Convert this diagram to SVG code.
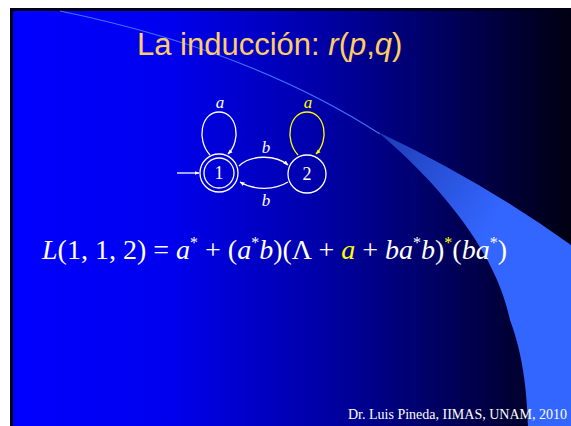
<svg xmlns="http://www.w3.org/2000/svg" width="571" height="426" viewBox="0 0 571 426">
<defs>
<linearGradient id="bg" x1="13" y1="0" x2="571" y2="0" gradientUnits="userSpaceOnUse">
<stop offset="0" stop-color="#0000ff"/>
<stop offset="0.28" stop-color="#0000ee"/>
<stop offset="0.55" stop-color="#0000a8"/>
<stop offset="0.8" stop-color="#000055"/>
<stop offset="1" stop-color="#000012"/>
</linearGradient>
<linearGradient id="sw" x1="380" y1="133" x2="500" y2="210" gradientUnits="userSpaceOnUse">
<stop offset="0" stop-color="#1e3cb4"/>
<stop offset="1" stop-color="#3366ff"/>
</linearGradient>
<marker id="ah" viewBox="0 0 10 10" refX="9" refY="5" markerWidth="5" markerHeight="5" orient="auto" markerUnits="userSpaceOnUse">
<path d="M0,1 L10,5 L0,9 Z" fill="#ffffff"/>
</marker>
<marker id="ahy" viewBox="0 0 10 10" refX="9" refY="5" markerWidth="5" markerHeight="5" orient="auto" markerUnits="userSpaceOnUse">
<path d="M0,1 L10,5 L0,9 Z" fill="#ffff00"/>
</marker>
<style>
.st{fill:none;stroke:#ffffff;stroke-width:1.3}
.lbl{font-family:"Liberation Serif",serif;font-style:italic;font-size:17px;fill:#ffffff;text-anchor:middle}
.num{font-family:"Liberation Serif",serif;font-size:18px;fill:#ffffff;text-anchor:middle}
.eq{font-family:"Liberation Serif",serif;font-size:28px;fill:#ffffff}
.it{font-style:italic}
.sup{font-size:16px}
.y{fill:#ffff00}
</style>
</defs>
<rect x="0" y="0" width="571" height="426" fill="#ffffff"/>
<rect x="10" y="8" width="561" height="418" fill="#000018"/>
<rect x="13" y="11" width="558" height="415" fill="url(#bg)"/>
<path d="M60,11 Q250,50 380,134" fill="none" stroke="#4070ff" stroke-width="1.2"/>
<path d="M378,132 Q480,180 571,245 L571,426 L528,426 C527,400 525,360 510,320 C495,250 440,185 378,132 Z" fill="url(#sw)"/>
<text x="137" y="55" font-family="Liberation Sans,Arial,sans-serif" font-size="31" fill="#ffcc66">La inducción: <tspan font-style="italic">r</tspan>(<tspan font-style="italic">p</tspan>,<tspan font-style="italic">q</tspan>)</text>
<g id="connectors">
<line x1="177" y1="173" x2="199" y2="173" class="st" marker-end="url(#ah)"/>
<path d="M210,155 C196,140 201,112 219,112 C237,112 242,140 228,154" class="st" marker-end="url(#ah)"/>
<path d="M298,155 C284,140 289,112 307,112 C325,112 330,140 316,154" fill="none" stroke="#ffff00" stroke-width="1.3" marker-end="url(#ahy)"/>
<path d="M239,166 C250,155 275,154 288,165" class="st" marker-end="url(#ah)"/>
<path d="M288,182 C275,190 255,191 240,182" class="st" marker-end="url(#ah)"/>
<text x="220" y="108" class="lbl">a</text>
<text x="308" y="108" class="lbl y">a</text>
<text x="266" y="153" class="lbl">b</text>
<text x="266" y="206" class="lbl">b</text>
</g>
<g id="state1">
<circle cx="219" cy="173" r="19" class="st"/>
<circle cx="219" cy="173" r="15" class="st"/>
<text x="219" y="179" class="num">1</text>
</g>
<g id="state2">
<circle cx="307" cy="174" r="19" class="st"/>
<text x="307" y="180" class="num">2</text>
</g>
<text x="42" y="259" class="eq"><tspan class="it">L</tspan>(1, 1, 2) = <tspan class="it">a</tspan><tspan class="sup" dy="-11">*</tspan><tspan dy="11"> + (</tspan><tspan class="it">a</tspan><tspan class="sup" dy="-11">*</tspan><tspan class="it" dy="11">b</tspan>)(Λ + <tspan class="it y">a</tspan> + <tspan class="it">ba</tspan><tspan class="sup" dy="-11">*</tspan><tspan class="it" dy="11">b</tspan>)<tspan class="sup y" dy="-11">*</tspan><tspan dy="11">(</tspan><tspan class="it">ba</tspan><tspan class="sup" dy="-11">*</tspan><tspan dy="11">)</tspan></text>
<text x="348" y="419" font-family="Liberation Serif,serif" font-size="14" fill="#ffffff">Dr. Luis Pineda, IIMAS, UNAM, 2010</text>
</svg>
